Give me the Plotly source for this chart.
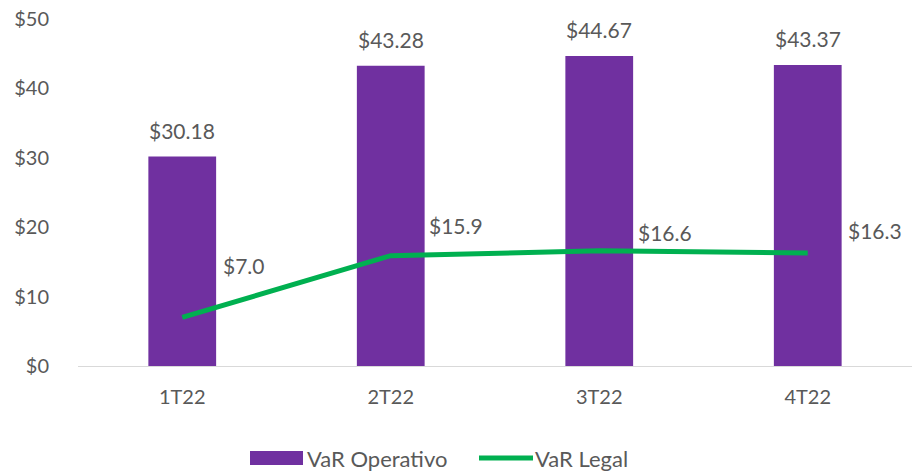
import plotly.graph_objects as go

categories = ["1T22", "2T22", "3T22", "4T22"]
var_operativo = [30.18, 43.28, 44.67, 43.37]
var_legal = [7.0, 15.9, 16.6, 16.3]
op_labels = ["$30.18", "$43.28", "$44.67", "$43.37"]
legal_labels = ["$7.0", "$15.9", "$16.6", "$16.3"]
y_ticks = [0, 10, 20, 30, 40, 50]
y_ticklabels = ["$0", "$10", "$20", "$30", "$40", "$50"]
series_names = ["VaR Operativo", "VaR Legal"]
series_colors = ["#7030A0", "#00B050"]

# label offsets (pixels) for the legal line labels
legal_dx = [62, 65, 66, 67]
legal_dy = [52, 30, 18, 22]

FONT = "Lato"
GREY = "#595959"
W, H = 912, 472
ML, MR, MT, MB = 78, 0, 19, 106
PW, PH = W - ML - MR, H - MT - MB


def px_x(px):
    return (px - ML) / PW


def px_y(py):
    return (H - MB - py) / PH


fig = go.Figure()
fig.add_trace(go.Bar(
    x=categories, y=var_operativo, name=series_names[0],
    marker=dict(color=series_colors[0], line=dict(width=0)),
    width=0.325, showlegend=False,
))
fig.add_trace(go.Scatter(
    x=categories, y=var_legal, name=series_names[1], mode="lines",
    line=dict(color=series_colors[1], width=5), showlegend=False,
))
for c, v, t in zip(categories, var_operativo, op_labels):
    fig.add_annotation(x=c, y=v, text=t, showarrow=False, yanchor="bottom", yshift=12,
                       font=dict(family=FONT, size=21, color=GREY))
for c, v, t, dx, dy in zip(categories, var_legal, legal_labels, legal_dx, legal_dy):
    fig.add_annotation(x=c, y=v, text=t, showarrow=False, xshift=dx, yshift=dy,
                       font=dict(family=FONT, size=21, color=GREY))

# custom legend (wide swatches, as in the reference)
fig.add_shape(type="rect", xref="paper", yref="paper",
              x0=px_x(250), x1=px_x(303), y0=px_y(465), y1=px_y(451),
              fillcolor=series_colors[0], line=dict(width=0))
fig.add_annotation(xref="paper", yref="paper", x=px_x(305), y=px_y(458),
                   xanchor="left", yanchor="middle", text=series_names[0], showarrow=False,
                   font=dict(family=FONT, size=22, color=GREY))
fig.add_shape(type="line", xref="paper", yref="paper",
              x0=px_x(479), x1=px_x(533), y0=px_y(458), y1=px_y(458),
              line=dict(color=series_colors[1], width=5))
fig.add_annotation(xref="paper", yref="paper", x=px_x(533), y=px_y(458),
                   xanchor="left", yanchor="middle", text=series_names[1], showarrow=False,
                   font=dict(family=FONT, size=22, color=GREY))

fig.update_layout(
    width=W, height=H,
    margin=dict(l=ML, r=MR, t=MT, b=MB, autoexpand=False),
    paper_bgcolor="white", plot_bgcolor="white",
    font=dict(family=FONT, color=GREY, size=20),
    showlegend=False,
)
fig.update_xaxes(showgrid=False, showline=True, linecolor="#d9d9d9", linewidth=1,
                 ticks="", tickfont=dict(family=FONT, size=20, color=GREY),
                 ticklabelstandoff=13, automargin=False)
fig.update_yaxes(range=[0, 50], tickvals=y_ticks, ticktext=y_ticklabels,
                 showgrid=False, zeroline=False, showline=False,
                 tickfont=dict(family=FONT, size=20, color=GREY), ticklabelstandoff=28,
                 automargin=False)

fig.write_html("out.html", config={"displayModeBar": False},
               post_script="document.body.style.margin='0';document.body.style.overflow='hidden';")
